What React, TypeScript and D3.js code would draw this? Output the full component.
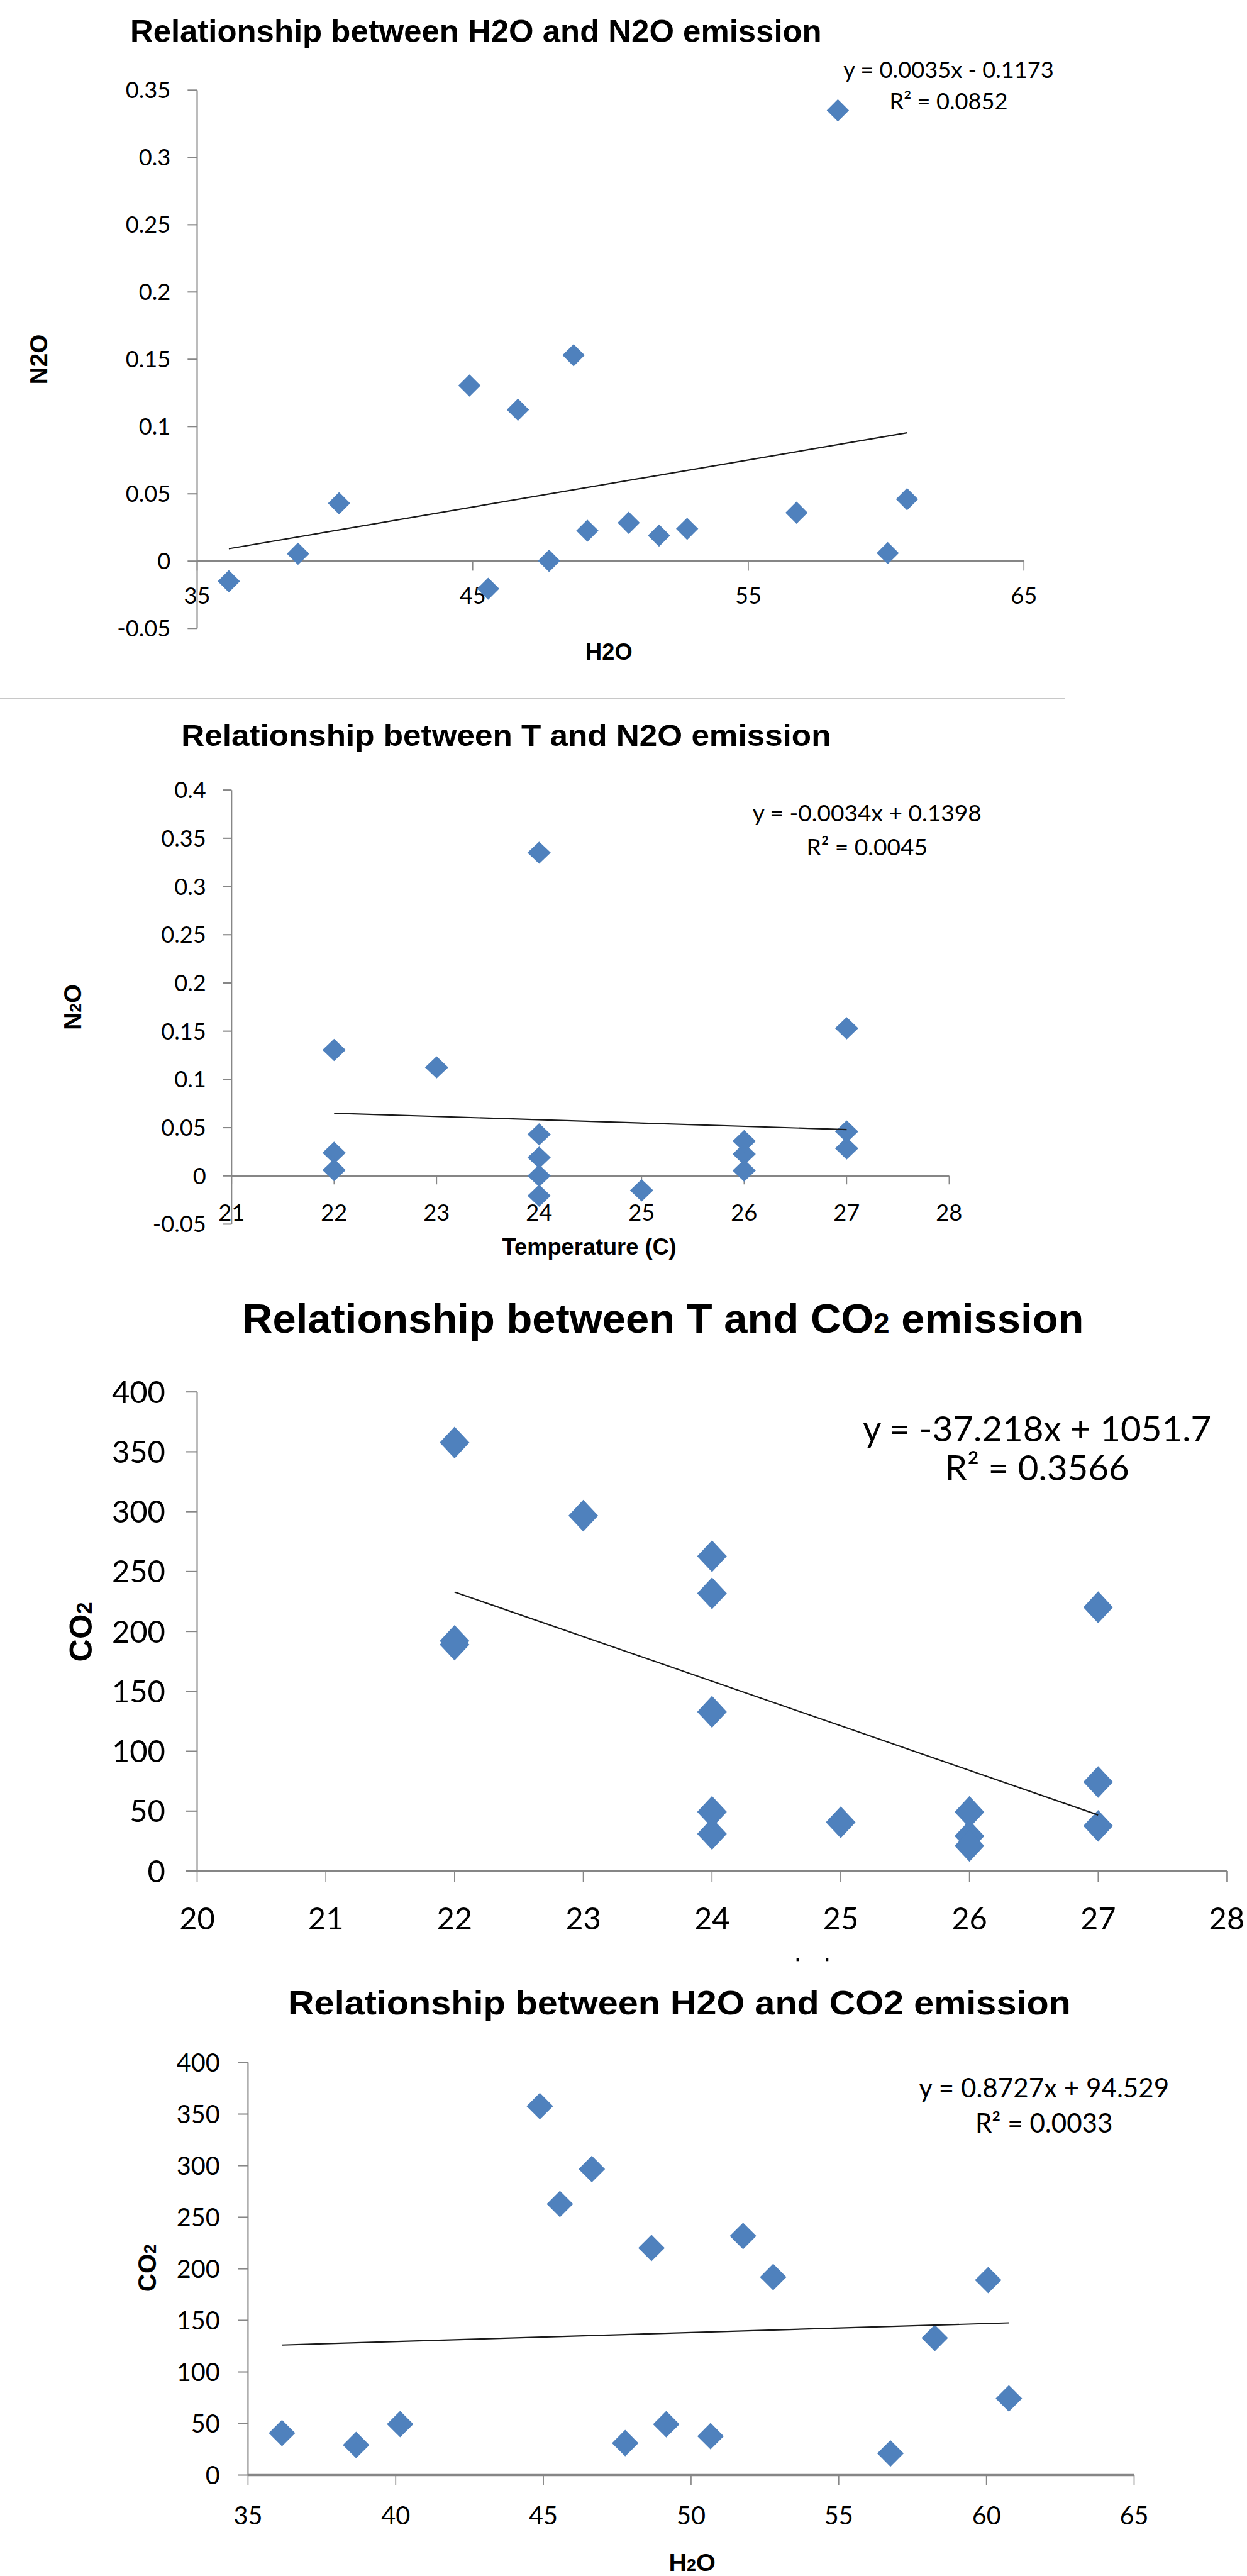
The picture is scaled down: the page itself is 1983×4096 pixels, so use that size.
import * as d3 from "d3";

// 16 samples, sorted by soil water content
const h2o = [36.15, 38.66, 40.15, 44.88, 45.56, 46.64, 47.77, 48.66, 49.16, 50.66, 51.76, 52.78, 56.75, 58.25, 60.06, 60.76];
const temp = [25, 26, 24, 22, 24, 23, 24, 27, 26, 27, 24, 22, 26, 24, 22, 27];
const n2o = [-0.015, 0.0055, 0.043, 0.1305, -0.0205, 0.1125, 0.0002, 0.153, 0.0226, 0.0285, 0.019, 0.024, 0.036, 0.335, 0.006, 0.046];
const co2 = [40.7, 29.2, 49.4, 357.7, 262.8, 296.7, 31, 220.2, 49.3, 37.7, 231.8, 192, 21, 132.9, 189, 74.3];

const titles = [
  "Relationship between H2O and N2O emission",
  "Relationship between T and N2O emission",
  "Relationship between T and CO₂ emission",
  "Relationship between H2O and CO2 emission",
];
const equations = ["y = 0.0035x - 0.1173", "y = -0.0034x + 0.1398", "y = -37.218x + 1051.7", "y = 0.8727x + 94.529"];
const rSquared = ["R² = 0.0852", "R² = 0.0045", "R² = 0.3566", "R² = 0.0033"];
const slopes = [0.0035, -0.0034, -37.218, 0.8727];
const intercepts = [-0.1173, 0.1398, 1051.7, 94.529];
const xLabels = ["H2O", "Temperature (C)", "", "H₂O"];
const yLabels = ["N2O", "N₂O", "CO₂", "CO₂"];

const n2oTicksA = [-0.05, 0, 0.05, 0.1, 0.15, 0.2, 0.25, 0.3, 0.35];
const n2oTicksB = [-0.05, 0, 0.05, 0.1, 0.15, 0.2, 0.25, 0.3, 0.35, 0.4];
const co2Ticks = [0, 50, 100, 150, 200, 250, 300, 350, 400];
const h2oTicksA = [35, 45, 55, 65];
const h2oTicksB = [35, 40, 45, 50, 55, 60, 65];
const tempTicksA = [21, 22, 23, 24, 25, 26, 27, 28];
const tempTicksB = [20, 21, 22, 23, 24, 25, 26, 27, 28];

const NUM_FONT = "Lato, 'Open Sans', sans-serif";
const BOLD_FONT = "'Liberation Sans', Arial, sans-serif";
const BLUE = "#4F81BD";
const AXIS = "#868686";

// layout in reference pixels (the svg viewBox scales everything by 0.842)
const panels = [
  {
    xs: h2o, ys: n2o, xTicks: h2oTicksA, yTicks: n2oTicksA,
    xDomain: [35, 65], xRange: [372, 1932], yDomain: [-0.05, 0.35], yRange: [1185.5, 170],
    title: { x: 898, y: 79, size: 60, width: 1305 },
    yLab: { x: 73, y: 678, size: 46 }, xLab: { x: 1149, y: 1229, size: 43 },
    legend: { x: 1790, y1: 131, y2: 191, size: 43 },
    tickSize: 43, yTickRight: 322, xTickY: 1124, tickLen: 18, xAxisW: 3, mw: 21, mh: 21,
  },
  {
    xs: temp, ys: n2o, xTicks: tempTicksA, yTicks: n2oTicksB,
    xDomain: [21, 28], xRange: [437, 1791], yDomain: [-0.05, 0.4], yRange: [2309.5, 1490.4],
    title: { x: 955, y: 1407, size: 58, width: 1226 },
    yLab: { x: 137, y: 1900, size: 46 }, xLab: { x: 1112, y: 2352, size: 43 },
    legend: { x: 1636, y1: 1534, y2: 1598, size: 44 },
    tickSize: 43, yTickRight: 389, xTickY: 2288, tickLen: 16, xAxisW: 3, mw: 22, mh: 21,
  },
  {
    xs: temp, ys: co2, xTicks: tempTicksB, yTicks: co2Ticks,
    xDomain: [20, 28], xRange: [372, 2315], yDomain: [0, 400], yRange: [3530, 2626],
    title: { x: 1251, y: 2514, size: 76, width: 1588 },
    yLab: { x: 152, y: 3079, size: 60 }, xLab: { x: 1530, y: 3697, size: 40 },
    legend: { x: 1957, y1: 2696, y2: 2769, size: 67 },
    tickSize: 58, yTickRight: 312, xTickY: 3619, tickLen: 21, xAxisW: 4, mw: 28, mh: 30,
  },
  {
    xs: h2o, ys: co2, xTicks: h2oTicksB, yTicks: co2Ticks,
    xDomain: [35, 65], xRange: [468, 2140], yDomain: [0, 400], yRange: [4669.7, 3891.3],
    title: { x: 1282, y: 3800, size: 63, width: 1477 },
    yLab: { x: 277, y: 4279, size: 48 }, xLab: { x: 1306, y: 4834, size: 47 },
    legend: { x: 1970, y1: 3939, y2: 4006, size: 50 },
    tickSize: 47, yTickRight: 415, xTickY: 4746, tickLen: 19, xAxisW: 4, mw: 25, mh: 25,
  },
];

// renders "₂" as a smaller 2 on the baseline, like the original
function Sub({ text, size }: { text: string; size: number }) {
  const parts = text.split("₂");
  return (
    <>
      {parts.map((p, k) => (
        <tspan key={k}>
          {k > 0 && <tspan fontSize={size * 0.68}>2</tspan>}
          {p}
        </tspan>
      ))}
    </>
  );
}

function Panel({ p, i }: { p: any; i: number }) {
  const x = d3.scaleLinear().domain(p.xDomain).range(p.xRange);
  const y = d3.scaleLinear().domain(p.yDomain).range(p.yRange);
  const ax = p.xRange[0];
  const yZero = y(0);
  const [lo, hi] = d3.extent(p.xs as number[]) as [number, number];
  const trend = d3.line()([
    [x(lo), y(slopes[i] * lo + intercepts[i])],
    [x(hi), y(slopes[i] * hi + intercepts[i])],
  ]);
  const diamond = (cx: number, cy: number) =>
    `M${cx},${cy - p.mh}L${cx + p.mw},${cy}L${cx},${cy + p.mh}L${cx - p.mw},${cy}Z`;

  return (
    <g>
      <text x={p.title.x} y={p.title.y} textAnchor="middle" fontFamily={BOLD_FONT} fontWeight="bold"
        fontSize={p.title.size} textLength={p.title.width} lengthAdjust="spacingAndGlyphs" fill="#000">
        <Sub text={titles[i]} size={p.title.size} />
      </text>

      {/* y axis */}
      <line x1={ax} x2={ax} y1={y(p.yDomain[1])} y2={y(p.yDomain[0])} stroke={AXIS} strokeWidth={2.5} />
      {p.yTicks.map((t: number) => (
        <g key={"y" + t}>
          <line x1={ax - p.tickLen} x2={ax} y1={y(t)} y2={y(t)} stroke={AXIS} strokeWidth={2.5} />
          <text x={p.yTickRight} y={y(t)} dy="0.36em" textAnchor="end" fontFamily={NUM_FONT}
            fontSize={p.tickSize} fill="#000">{String(t)}</text>
        </g>
      ))}

      {/* x axis crosses at zero */}
      <line x1={ax} x2={p.xRange[1]} y1={yZero} y2={yZero} stroke={AXIS} strokeWidth={p.xAxisW} />
      {p.xTicks.map((t: number) => (
        <g key={"x" + t}>
          <line x1={x(t)} x2={x(t)} y1={yZero} y2={yZero + p.tickLen} stroke={AXIS} strokeWidth={2} />
          <text x={x(t)} y={p.xTickY} dy="0.36em" textAnchor="middle" fontFamily={NUM_FONT}
            fontSize={p.tickSize} fill="#000">{String(t)}</text>
        </g>
      ))}

      <text transform={`translate(${p.yLab.x},${p.yLab.y}) rotate(-90)`} dy="0.36em" textAnchor="middle"
        fontFamily={BOLD_FONT} fontWeight="bold" fontSize={p.yLab.size} fill="#000">
        <Sub text={yLabels[i]} size={p.yLab.size} />
      </text>
      {xLabels[i] ? (
        <text x={p.xLab.x} y={p.xLab.y} dy="0.36em" textAnchor="middle" fontFamily={BOLD_FONT}
          fontWeight="bold" fontSize={p.xLab.size} fill="#000">
          <Sub text={xLabels[i]} size={p.xLab.size} />
        </text>
      ) : (
        // the axis title of this chart is cut off in the source; only two specks remain
        <g fill="#000">
          <rect x={p.xLab.x - 27} y={p.xLab.y - 3} width={5} height={6} />
          <rect x={p.xLab.x + 28} y={p.xLab.y - 3} width={5} height={6} />
        </g>
      )}

      {p.xs.map((v: number, k: number) => (
        <path key={k} d={diamond(x(v), y(p.ys[k]))} fill={BLUE} />
      ))}
      <path d={trend ?? ""} stroke="#1a1a1a" strokeWidth={2.6} fill="none" />

      <g fontFamily={NUM_FONT} fontSize={p.legend.size} fill="#000" textAnchor="middle">
        <text x={p.legend.x} y={p.legend.y1} dy="0.36em">{equations[i]}</text>
        <text x={p.legend.x} y={p.legend.y2} dy="0.36em">{rSquared[i]}</text>
      </g>
    </g>
  );
}

export default function App() {
  return (
    <div style={{ position: "absolute", left: 0, top: 0, background: "#fff" }}>
      <svg width={1983} height={4096} viewBox="0 0 2353 4860" style={{ display: "block" }}>
        <rect width={2353} height={4860} fill="#fff" />
        <line x1={0} x2={2010} y1={1318} y2={1318} stroke="#C8C8C8" strokeWidth={2} />
        {panels.map((p, i) => (
          <Panel key={i} p={p} i={i} />
        ))}
      </svg>
    </div>
  );
}
